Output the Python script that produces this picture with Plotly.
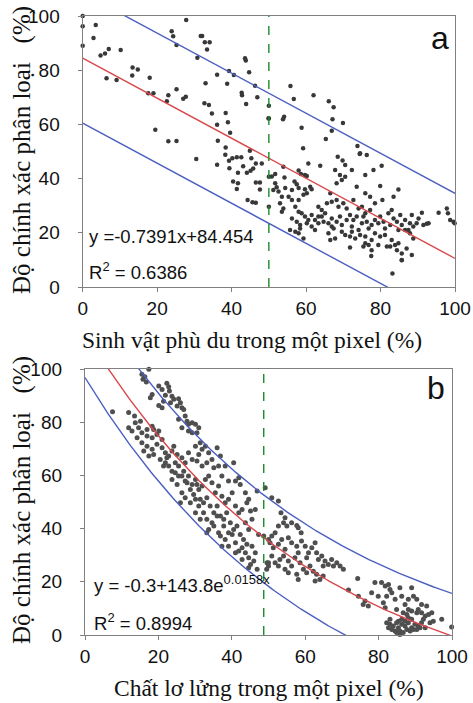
import math
import plotly.graph_objects as go

# ---- panel a: phytoplankton (%) vs classification accuracy (%) ----
a_x = [0, 0, 0, 3.5, 2.9, 4.8, 6, 7, 10.2, 6.4, 9.1, 13.4, 14.8, 13.3, 18, 17.6, 19, 19.5, 23, 25.2,
       22.6, 23, 25.2, 27, 27.7, 23.9, 24.3, 25.2, 27.8, 31.7, 32.1, 32.8, 34.1, 33.4, 30.8, 33, 36.1,
       38.8, 39.3, 40.6, 32.7, 33.9, 34.7, 36.1, 38.4, 39, 39.6, 36.3, 38.4, 43.6, 43.8, 44.7, 42.7,
       42.8, 43.9, 46.3, 46.9, 49.9, 44.9,
       55.8, 56.7, 50, 50, 54.1, 53.8, 62, 66.1, 67.4, 67.1, 69.9, 66.9, 58.8, 65.3, 59.2, 73.8, 74.5,
       30.5, 36.1, 38.3, 39.3, 40.2, 41.4, 42.6, 39.4, 41.7, 43.1, 44.1, 45.1, 45.8, 45.3, 46.5, 48.1,
       40.4, 41.7, 41.4, 46.5, 47.6, 47.6, 44.3, 45.6, 46.5, 50, 50,
       68.5, 69.8, 70.5, 74.4, 76.3, 60.6, 63.8, 58.0, 58.6, 59.7, 60.2, 53.9, 51.7, 50.8, 54.2, 56.9,
       57.5, 51.7, 52.1, 51.2, 52.6, 54.4, 56.2, 58.0, 59.7, 61.1, 61.5, 53.5, 55.3, 56.2, 53.0, 53.9,
       53.5, 58.0, 59.3, 60.2, 67.8, 69.1, 70.5, 68.2, 69.6, 72.3, 75.9, 78.1, 80.3, 73.6, 75.9, 79.9,
       80.5, 83.5, 84.8, 66.5, 66.9, 68.2, 68.7, 70.0, 70.9, 72.7, 74.1, 77.2, 78.5, 77.2, 75.9, 75.0,
       57.1, 58.0, 58.8, 59.7, 60.6, 61.5, 62.4, 63.3, 64.2, 65.1, 65.6, 63.3, 64.2, 56.2, 57.5, 58.4,
       60.2, 61.5, 62.4, 63.3, 64.7, 66.0, 66.9, 67.4, 68.2, 69.1, 69.6, 70.9, 71.8, 72.3, 72.7, 73.6,
       74.1, 75.0, 75.4, 76.3, 76.8, 77.6, 78.5, 79.4, 79.9, 80.8, 81.2, 82.1, 82.6, 83.0, 83.5, 84.4,
       84.8, 85.3, 85.7, 86.6, 87.5, 87.9, 88.4, 88.8, 89.7, 90.2, 91.1, 91.5, 92.4, 92.9, 55.7, 57.1,
       58.0, 59.3, 58.4, 66.0, 66.5, 67.8, 69.6, 70.5, 71.8, 72.3, 73.2, 74.5, 75.9, 75.9, 75.4, 76.8,
       77.6, 77.6, 78.5, 79.4, 79.9, 81.2, 81.7, 82.6, 83.0, 83.9, 84.4, 84.8, 85.7, 85.7, 87.0, 87.9,
       88.4, 88.8, 86.6, 71.8, 77.5, 83.2, 95.6, 97.8, 98.1, 98.7, 99.6, 99.9, 66.9, 85.7]
a_y = [100, 96.2, 89, 96.7, 91.9, 85.4, 86.2, 87.8, 87.5, 77, 76.4, 81, 80.3, 78, 77.2, 71.5, 71.5, 58,
       53.8, 53.9, 68.5, 70.8, 73, 69.5, 70.2, 94.4, 92.5, 89.3, 98.5, 92.6, 92.6, 90.3, 90.3, 87.6,
       84.6, 75.2, 78.3, 75, 79.7, 78.2, 67.8, 67.2, 64, 59.9, 64.2, 60.8, 56.9, 54, 51.5, 84.4, 83.6,
       79.2, 71.7, 70.8, 67.5, 74.3, 70, 62.3, 50.3,
       74.2, 69.4, 66.9, 62.2, 62.8, 61.9, 70.8, 68.5, 66.3, 61.9, 60.5, 57.7, 58.8, 54.6, 51.2, 52, 49.4,
       47.2, 45.1, 48.8, 46.6, 47.5, 47.9, 47.9, 43.8, 42.2, 44.6, 42.2, 42.9, 43.7, 47.5, 45.6, 45.6,
       38.9, 38.3, 36.2, 38.6, 38.6, 36, 32.1, 31.3, 31.1, 40.7, 29.6,
       48.1, 46.7, 45.0, 49.1, 48.7, 45.6, 44.7, 43.0, 41.7, 41.3, 41.0, 44.4, 41.7, 40.8, 40.4, 38.9,
       37.9, 38.3, 36.8, 35.8, 35.2, 36.5, 35.8, 36.5, 36.1, 37.0, 36.1, 33.3, 33.3, 32.1, 30.9, 29.0,
       27.8, 32.1, 34.0, 34.6, 43.2, 41.3, 40.7, 38.3, 39.5, 43.2, 41.3, 43.2, 44.7, 37.0, 34.6, 37.3,
       32.1, 33.3, 36.0, 34.6, 31.5, 32.1, 29.6, 30.9, 29.0, 32.1, 29.0, 33.3, 30.9, 28.4, 27.2, 29.6,
       29.6, 27.8, 27.2, 26.0, 24.7, 26.6, 24.7, 23.5, 26.0, 27.2, 30.9, 29.6, 28.4, 25.3, 24.1, 22.9,
       23.5, 22.3, 21.0, 26.0, 24.1, 23.5, 25.3, 21.6, 24.1, 26.0, 22.9, 24.7, 26.6, 22.3, 24.7, 26.0,
       21.0, 23.5, 26.0, 24.1, 21.6, 22.9, 24.7, 23.5, 26.0, 24.1, 21.6, 27.2, 22.9, 28.4, 25.3, 24.1,
       21.0, 26.6, 22.9, 24.7, 21.0, 23.5, 26.6, 22.3, 23.5, 25.3, 27.4, 22.9, 23.3, 23.5, 21.0, 20.4,
       19.8, 17.9, 21.6, 19.8, 17.3, 17.9, 20.4, 19.2, 18.6, 20.4, 17.9, 19.2, 18.6, 16.1, 14.9, 15.5,
       17.3, 13.6, 19.8, 15.5, 18.6, 19.2, 14.9, 14.9, 17.3, 15.5, 13.6, 16.1, 12.4, 9.9, 14.2, 19.8,
       11.8, 17.9, 21.0, 14.6, 11.4, 5.0, 27.4, 29.0, 27.2, 24.7, 24.1, 23.5, 22.3, 10]

# ---- panel b: suspended matter (%) vs classification accuracy (%) ----
b_x = [15.5, 16.3, 17.4, 15.8, 16.7, 20.1, 21.0, 22.3, 22.8, 23.0, 21.9, 23.7, 24.2, 25.5, 26.0, 26.4,
       25.1, 23.3, 21.4, 20.1, 21.0, 18.3, 17.8, 26.9, 27.3, 25.5, 27.8, 28.2, 29.2, 30.1, 31.0, 30.5,
       29.2, 26.4, 28.2, 7.5, 11.9, 13.5, 13.7, 15.1, 14.6, 12.8, 11.9, 15.5, 16.9, 18.3, 18.7, 16.9,
       18.3, 19.6, 20.1, 21.0, 14.2, 15.5, 16.9, 18.3, 16.0, 17.4, 18.7, 19.6, 21.0, 21.9, 20.5, 21.9,
       22.8, 23.7, 24.2, 25.1, 26.4, 27.3, 28.2, 29.2, 30.1, 31.4, 31.9, 32.8, 33.7, 31.0, 30.5, 31.9,
       33.2, 34.6, 35.1, 36.0, 36.9, 36.4, 38.2, 40.5, 37.3, 39.1, 41.0, 41.9, 42.3, 43.7, 44.6, 45.1,
       46.4, 46.9, 44.1, 22.8, 23.7, 24.6, 25.5, 26.4, 27.3, 28.2, 29.2, 30.1, 31.0, 31.9, 32.8, 33.7,
       34.6, 35.5, 36.4, 37.3, 38.2, 39.1, 40.1, 41.0, 41.9, 42.8, 43.7, 44.6, 45.5, 26.4, 27.3, 28.7,
       30.1, 31.0, 32.3, 33.2, 33.7, 34.6, 36.0, 36.4, 37.8, 38.2, 39.1, 40.1, 41.0, 41.9, 42.8, 43.7,
       44.6, 45.1, 46.0, 46.4, 46.9, 47.3, 48.7, 49.6, 50.0, 26.0, 33.2, 37.3, 42.8, 44.6,
       24.6, 25.5, 26.9, 27.8, 28.7, 29.6, 30.5, 31.4, 32.3, 33.2, 34.1, 35.1, 36.0, 36.9, 37.8, 38.6,
       39.6, 40.5, 41.4, 42.3, 43.2, 44.1, 45.5, 22.3, 21.4, 23.7, 25.1, 30.1, 31.4, 35.1, 36.9, 39.1,
       41.0,
       49.1, 50.9, 52.7, 53.4, 54.5, 54.1, 55.0, 56.3, 57.7, 58.1, 58.9, 52.7, 51.8, 50.9, 50.0, 50.4,
       51.3, 52.7, 53.6, 55.4, 56.3, 57.7, 59.0, 60.0, 60.9, 60.4, 61.8, 62.7, 63.1, 63.6, 64.5, 64.9,
       65.4, 66.3, 67.2, 67.7, 68.6, 69.5, 70.4, 54.5, 54.1, 53.1, 55.4, 56.3, 57.2, 58.1, 58.6, 59.5,
       60.4, 61.3, 62.2, 63.1, 64.0, 64.9, 62.7, 54.5, 55.4, 52.7, 51.8, 50.9, 50.0, 49.5, 57.7, 58.1,
       71.8, 74.3, 74.5, 75.8, 76.3, 77.2, 79.0, 80.8, 81.8, 82.7, 83.1, 83.6, 82.2, 81.3, 81.8, 79.9,
       78.1, 84.5, 85.8, 86.3, 87.2, 88.1, 89.0, 89.5, 90.4, 90.8, 91.7, 92.7, 93.6, 94.5, 94.0, 94.9,
       93.1, 91.7, 90.4, 89.0, 88.1, 87.7, 86.7, 84.9, 97.2, 99.9,
       82.2, 83.1, 84.0, 84.9, 85.4, 85.8, 86.3, 87.2, 88.1, 89.0, 89.9, 90.8, 91.7, 83.6, 84.5, 86.7,
       87.7, 88.6, 89.5, 90.4, 91.3, 85.4, 86.3, 87.2, 84.9, 85.8, 83.1, 82.7, 92.7, 92.2, 88.1, 89.0]
b_y = [98.0, 97.1, 99.9, 96.1, 95.1, 93.6, 92.3, 94.6, 93.3, 91.7, 90.1, 89.8, 88.6, 88.8, 87.3, 85.4,
       86.1, 87.3, 87.9, 86.3, 85.4, 90.4, 89.2, 84.8, 82.3, 81.1, 80.4, 79.2, 79.8, 79.2, 77.9, 76.0,
       76.0, 77.9, 76.7, 83.9, 83.6, 82.3, 79.8, 80.4, 77.9, 76.7, 77.9, 76.0, 77.3, 78.5, 77.3, 74.8,
       74.2, 75.4, 76.7, 73.5, 74.2, 72.3, 71.0, 69.8, 69.2, 67.3, 67.9, 71.7, 70.4, 68.5, 66.0, 64.8,
       67.3, 69.2, 71.0, 67.9, 66.6, 64.8, 68.5, 66.0, 71.0, 72.3, 69.8, 71.0, 68.5, 67.9, 65.4, 63.5,
       64.8, 66.0, 62.9, 70.4, 67.3, 63.5, 63.5, 64.8, 59.8, 57.9, 57.9, 59.1, 56.6, 53.5, 51.0, 46.6,
       47.2, 54.1, 49.7, 63.5, 61.6, 61.0, 63.5, 59.8, 57.9, 59.8, 56.6, 58.5, 54.7, 56.0, 58.5, 59.8,
       57.2, 53.5, 56.0, 52.2, 49.7, 51.0, 53.5, 48.5, 46.0, 47.2, 42.2, 39.7, 43.5, 53.5, 51.6, 49.7,
       51.0, 48.5, 46.0, 43.5, 39.7, 42.2, 44.7, 38.4, 41.0, 35.9, 33.4, 37.8, 34.7, 31.6, 32.8, 30.9,
       29.0, 26.5, 27.8, 30.9, 24.7, 37.8, 37.2, 27.2, 25.9, 49.7, 38.4, 33.4, 28.4, 25.3,
       64.8, 59.8, 61.6, 57.2, 54.7, 52.8, 56.6, 51.0, 49.7, 51.6, 48.5, 46.0, 48.5, 44.7, 43.5, 46.0,
       42.2, 39.7, 41.0, 37.8, 35.9, 34.1, 33.4, 66.6, 63.5, 58.5, 56.6, 46.0, 43.5, 41.0, 37.2, 38.4,
       30.9,
       55.4, 51.6, 50.4, 46.0, 44.1, 42.2, 41.0, 42.2, 41.2, 40.3, 38.4, 41.0, 38.4, 37.2, 35.9, 34.7,
       32.8, 34.1, 35.9, 36.6, 34.7, 33.4, 35.3, 33.4, 30.9, 29.0, 32.8, 34.7, 30.9, 28.4, 29.7, 25.9,
       27.8, 26.5, 28.4, 25.9, 27.2, 25.9, 24.7, 32.2, 29.7, 28.4, 27.8, 25.9, 29.0, 30.9, 27.2, 24.7,
       23.4, 25.9, 24.0, 22.8, 20.9, 22.2, 20.3, 24.7, 23.4, 25.9, 27.2, 29.7, 27.2, 24.7, 22.8, 20.9,
       16.9, 21.2, 14.6, 11.5, 12.8, 10.9, 19.7, 19.7, 18.4, 19.0, 17.1, 15.9, 14.6, 12.1, 10.2, 14.6,
       15.9, 13.4, 17.8, 14.6, 11.5, 13.4, 17.8, 14.6, 13.4, 9.6, 8.4, 7.1, 7.7, 8.4, 4.6, 5.2,
       10.9, 11.5, 8.4, 9.0, 9.6, 7.7, 8.4, 9.6, 5.9, 3.0,
       4.6, 4.0, 3.4, 4.6, 2.7, 1.5, 4.0, 3.4, 4.6, 2.7, 4.0, 3.4, 4.6, 2.1, 1.5, 0.9,
       2.1, 1.5, 2.1, 2.1, 2.7, 5.2, 5.9, 5.2, 0.9, 0.2, 5.9, 2.7, 2.7, 5.9, 6.5, 5.9]

# fitted lines as printed on the chart
a_slope, a_icpt, a_band = -0.7391, 84.454, 24.0
b_c, b_amp, b_rate = -30.0, 143.8, 0.0158
b_up, b_lo = 16.0, -17.0
a_cut, b_cut = 50, 48.7

ticks = [0, 20, 40, 60, 80, 100]
grid = [i * 0.5 for i in range(201)]

RED = "#d9474b"
BLUE = "#4b5fc0"
GREEN = "#1a8a2a"
SANS = "Liberation Sans, Arial, sans-serif"
SERIF = "Liberation Serif, Times New Roman, serif"

W, H = 473, 703


def px(v):
    return v / W


def py(v):
    return 1 - v / H


fig = go.Figure()

# panel a
fig.add_trace(go.Scatter(x=a_x, y=a_y, mode="markers", xaxis="x", yaxis="y",
                         marker=dict(size=4.5, color="#383838"), cliponaxis=False))
fa = [a_icpt + a_slope * g for g in grid]
fig.add_trace(go.Scatter(x=grid, y=fa, mode="lines", line=dict(color=RED, width=1.4), xaxis="x", yaxis="y"))
fig.add_trace(go.Scatter(x=grid, y=[v + a_band for v in fa], mode="lines", line=dict(color=BLUE, width=1.4),
                         xaxis="x", yaxis="y"))
fig.add_trace(go.Scatter(x=grid, y=[v - a_band for v in fa], mode="lines", line=dict(color=BLUE, width=1.4),
                         xaxis="x", yaxis="y"))
fig.add_trace(go.Scatter(x=[a_cut, a_cut], y=[0, 100], mode="lines", line=dict(color=GREEN, width=1.4, dash="dash"),
                         xaxis="x", yaxis="y"))

# panel b
fb = [b_c + b_amp * math.exp(-b_rate * g) for g in grid]
fig.add_trace(go.Scatter(x=b_x, y=b_y, mode="markers", xaxis="x2", yaxis="y2",
                         marker=dict(size=5, color="#4f4f4f"), cliponaxis=False))
fig.add_trace(go.Scatter(x=grid, y=fb, mode="lines", line=dict(color=RED, width=1.4), xaxis="x2", yaxis="y2"))
fig.add_trace(go.Scatter(x=grid, y=[v + b_up for v in fb], mode="lines", line=dict(color=BLUE, width=1.4),
                         xaxis="x2", yaxis="y2"))
fig.add_trace(go.Scatter(x=grid, y=[v + b_lo for v in fb], mode="lines", line=dict(color=BLUE, width=1.4),
                         xaxis="x2", yaxis="y2"))
fig.add_trace(go.Scatter(x=[b_cut, b_cut], y=[0, 100], mode="lines", line=dict(color=GREEN, width=1.4, dash="dash"),
                         xaxis="x2", yaxis="y2"))

ax = dict(range=[0, 100], tickvals=ticks, showgrid=False, zeroline=False, showline=True, mirror=True,
          linecolor="#808080", linewidth=1.3, ticks="outside", ticklen=4, tickcolor="#808080",
          automargin=False, ticklabeloverflow="allow", tickfont=dict(family=SANS, size=19, color="#111"))

fig.update_layout(
    width=W, height=H, margin=dict(l=0, r=0, t=0, b=0, autoexpand=False),
    paper_bgcolor="white", plot_bgcolor="white", showlegend=False,
    font=dict(color="#111"),
    xaxis=dict(ax, domain=[px(82.7), px(455)], anchor="y"),
    yaxis=dict(ax, domain=[py(287), py(16)], anchor="x", ticklabelstandoff=14),
    xaxis2=dict(ax, domain=[px(85), px(452)], anchor="y2"),
    yaxis2=dict(ax, domain=[py(635), py(369)], anchor="x2", ticklabelstandoff=14),
)

ylab = "Độ chính xác phân loại\u00a0\u00a0 (%)"
notes = [
    # axis titles
    dict(x=px(252), y=py(340), text="Sinh vật phù du trong một pixel (%)", size=23.5, angle=0),
    dict(x=px(269), y=py(688), text="Chất lơ lửng trong một pixel (%)", size=23.5, angle=0),
    dict(x=px(22), y=py(150), text=ylab, size=25, angle=-90),
    dict(x=px(22), y=py(500), text=ylab, size=25, angle=-90),
]
for n in notes:
    fig.add_annotation(x=n["x"], y=n["y"], text=n["text"], textangle=n["angle"], xref="paper", yref="paper",
                       showarrow=False, xanchor="center", yanchor="middle",
                       font=dict(family=SERIF, size=n["size"], color="#111"))

eq = [
    ("x", "y", 1.2, 18.5, "y =-0.7391x+84.454"),
    ("x", "y", 1.2, 6.0, "R<sup>2</sup> = 0.6386"),
    ("x2", "y2", 1.8, 19.0, "y = -0.3+143.8e<sup>0.0158x</sup>"),
    ("x2", "y2", 1.8, 5.0, "R<sup>2</sup> = 0.8994"),
]
for xr, yr, xv, yv, t in eq:
    fig.add_annotation(xref=xr, yref=yr, x=xv, y=yv, text=t, showarrow=False, xanchor="left", yanchor="middle",
                       font=dict(family=SANS, size=18.5, color="#111"))

fig.add_annotation(xref="x", yref="y", x=99, y=92, text="a", showarrow=False, xanchor="right", yanchor="middle",
                   font=dict(family=SANS, size=32, color="#111"))
fig.add_annotation(xref="x2", yref="y2", x=98.5, y=93, text="b", showarrow=False, xanchor="right", yanchor="middle",
                   font=dict(family=SANS, size=32, color="#111"))

# drop the default 8px body margin so the figure fills the window exactly
fig.write_html("out.html", config={"displayModeBar": False},
               post_script="document.body.style.margin='0';")
